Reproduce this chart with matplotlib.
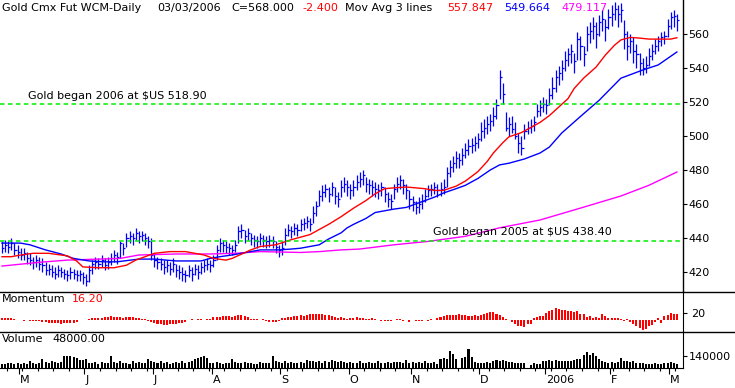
import numpy as np
import matplotlib
matplotlib.use('Agg')
import matplotlib.pyplot as plt
from matplotlib.lines import Line2D

# ---------------- data ----------------
closes = [434, 436, 435, 437, 433, 432, 430, 431, 428, 427,
          426, 427, 425, 424, 421, 422, 420, 419, 421, 420,
          419, 418, 420, 419, 418, 419, 417, 415, 421, 425,
          426, 425, 427, 424, 426, 428, 430, 429, 437, 434,
          440, 441, 440, 443, 441, 442, 440, 438, 430, 427,
          426, 425, 423, 424, 422, 425, 421, 420, 419, 418,
          421, 419, 422, 420, 423, 424, 425, 424, 427, 433,
          437, 436, 435, 434, 433, 436, 444, 445, 441, 443,
          440, 439, 438, 440, 439, 438, 439, 438, 435, 433,
          434, 442, 445, 444, 446, 445, 448, 449, 450, 448,
          455, 459, 465, 467, 469, 466, 470, 465, 463, 470,
          472, 470, 468, 470, 473, 475, 477, 472, 471, 470,
          469, 468, 470, 466, 463, 462, 469, 472, 474, 471,
          468, 463, 461, 458, 460, 462, 465, 468, 469, 470,
          468, 469, 470, 478, 482, 484, 487, 486, 489, 492,
          494, 495, 496, 498, 503, 505, 507, 509, 512, 518,
          535, 525, 505, 507, 504, 500, 496, 493, 503, 505,
          506, 508, 515, 517, 519, 518, 524, 528, 535, 537,
          540, 545, 548, 550, 544, 557, 553, 548, 560, 562,
          565, 560, 567, 569, 564, 570, 572, 575, 572, 574,
          560, 553, 556, 550, 548, 543, 540, 542, 547, 550,
          553, 556, 558, 559, 565, 570, 570.4, 568]
highs = [438, 439, 438, 440, 437, 436, 434, 434, 432, 431,
         429, 430, 429, 428, 426, 425, 424, 423, 424, 423,
         422, 421, 423, 422, 421, 421, 420, 419, 424, 427,
         429, 428, 430, 428, 429, 431, 433, 432, 438, 437,
         443, 444, 443, 446, 444, 444, 443, 441, 440, 431,
         429, 428, 427, 427, 426, 428, 425, 424, 423, 421,
         424, 423, 425, 424, 426, 427, 428, 427, 430, 436,
         440, 439, 438, 437, 436, 439, 447, 448, 445, 446,
         443, 442, 441, 443, 442, 441, 442, 441, 438, 436,
         438, 446, 448, 447, 449, 448, 451, 452, 453, 452,
         459, 462, 468, 471, 472, 470, 473, 470, 467, 474,
         476, 474, 472, 474, 477, 479, 480, 476, 475, 474,
         473, 472, 473, 470, 467, 466, 472, 476, 477, 475,
         472, 468, 465, 462, 464, 466, 469, 471, 472, 473,
         472, 473, 475, 482, 486, 488, 491, 490, 493, 496,
         498, 499, 500, 502, 508, 510, 512, 513, 517, 522,
         539, 531, 514, 511, 512, 508, 502, 500, 507, 509,
         510, 512, 519, 521, 523, 522, 528, 535, 539, 541,
         545, 550, 552, 554, 549, 561, 559, 553, 565, 567,
         570, 567, 571, 574, 569, 575, 577, 579, 577, 578,
         568, 562, 560, 558, 554, 549, 546, 547, 552, 554,
         557, 559, 561, 562, 569, 573, 574, 572]
lows = [431, 432, 431, 433, 430, 428, 427, 427, 425, 424,
        422, 423, 421, 420, 418, 418, 417, 416, 417, 417,
        416, 415, 416, 416, 415, 415, 413, 412, 414, 419,
        422, 422, 423, 421, 422, 424, 426, 425, 428, 430,
        435, 437, 436, 439, 437, 438, 436, 434, 427, 423,
        422, 421, 419, 420, 418, 420, 417, 416, 415, 414,
        417, 415, 418, 416, 419, 420, 421, 420, 423, 427,
        432, 432, 431, 430, 430, 432, 437, 440, 437, 439,
        436, 435, 434, 436, 435, 434, 435, 434, 431, 429,
        430, 436, 441, 440, 442, 441, 444, 445, 446, 444,
        449, 453, 459, 462, 464, 461, 465, 460, 458, 464,
        467, 465, 463, 465, 468, 470, 471, 467, 466, 465,
        464, 463, 465, 461, 458, 457, 463, 467, 469, 466,
        463, 457, 456, 454, 455, 457, 461, 464, 465, 466,
        464, 465, 466, 470, 476, 479, 481, 481, 483, 487,
        489, 490, 491, 493, 497, 499, 501, 503, 506, 510,
        522, 519, 503, 500, 502, 498, 490, 489, 498, 501,
        502, 503, 511, 512, 514, 513, 518, 522, 526, 530,
        533, 538, 541, 543, 537, 545, 545, 541, 550, 555,
        557, 552, 559, 562, 556, 563, 565, 568, 564, 567,
        551, 545, 549, 543, 540, 536, 536, 537, 541, 545,
        548, 550, 553, 554, 558, 563, 564, 562]

momentum = [4, 5, 4, 6, 3, -1, -2, -3, -2, -3,
            -3, -4, -5, -6, -8, -9, -10, -10, -11, -12,
            -11, -10, -9, -9, -7, -2, -1, -2, 3, 4,
            5, 4, 6, 8, 9, 10, 9, 9, 8, 6,
            9, 8, 7, 6, 5, 3, 2, -4, -8, -10,
            -12, -14, -15, -15, -13, -14, -12, -10, -9, -6,
            -1, 1, -1, 2, 0.5, -1, 1, 3, 7, 8,
            9, 10, 11, 10, 9, 12, 15, 13, 10, 8,
            2, 0.5, 1, -1, 0.5, -4, -6, -8, -7, -5,
            4, 6, 8, 9, 10, 12, 13, 12, 15, 17,
            18, 17, 18, 16, 15, 14, 11, 9, 6, 7,
            5, 3, 5, 6, 7, 5, 4, 3, 3, 4,
            1, -2, -3, -4, -3, -4, -2, 2, 1, -5,
            -2, -6, -1, -3, -3, -4, -2, -3, 1, -2,
            4, 9, 12, 14, 15, 13, 14, 18, 15, 13,
            12, 11, 13, 12, 15, 17, 20, 23, 22, 18,
            13, 7, 0.5, -2, -8, -12, -18, -20, -22, -14,
            -12, 6, 8, 10, 12, 20, 25, 30, 35, 32,
            30, 28, 26, 25, 22, 25, 18, 16, 8, 10,
            6, 8, 5, 18, 12, 6, 5, 4, 6, 2,
            -3, 1, -6, -12, -18, -24, -30, -28, -20, -15,
            -8, 6, -9, 10, 14, 20, 18, 16.2]

volume_k = [50, 45, 55, 60, 50, 55, 45, 60, 50, 80,
            55, 50, 60, 105, 70, 65, 85, 75, 60, 70,
            140, 145, 150, 135, 120, 100, 95, 105, 60, 55,
            70, 50, 75, 55, 65, 140, 70, 60, 80, 55,
            65, 50, 80, 60, 70, 55, 60, 105, 90, 70,
            60, 80, 55, 75, 50, 60, 70, 55, 80, 60,
            70, 90, 115, 125, 130, 140, 120, 60, 55, 70,
            60, 50, 65, 55, 105, 70, 60, 55, 75, 60,
            55, 45, 50, 70, 55, 60, 65, 150, 85, 70,
            55, 80, 60, 75, 65, 55, 70, 60, 95, 80,
            85, 75, 90, 65, 80, 70, 95, 80, 75, 85,
            75, 60, 70, 65, 55, 80, 65, 60, 70, 60,
            55, 80, 60, 65, 70, 55, 70, 75, 70, 60,
            95, 60, 70, 55, 75, 60, 80, 60, 55, 70,
            50, 115, 120, 110, 210, 170, 115, 0, 125, 135,
            230, 130, 70, 60, 65, 55, 70, 60, 85, 95,
            90, 95, 80, 70, 75, 60, 65, 55, 60, 0,
            40, 55, 45, 50, 85, 90, 95, 85, 100, 90,
            85, 90, 80, 85, 100, 105, 115, 160, 200, 155,
            185, 150, 110, 80, 75, 65, 70, 60, 75, 120,
            85, 80, 75, 85, 65, 55, 60, 50, 45, 50,
            55, 45, 50, 65, 60, 70, 65, 48]

# moving averages (bar index, value)
ma_red_idx = [0, 3, 6, 10, 15, 21, 24, 26, 31, 36, 40, 43, 46, 49, 54, 59, 62, 65, 68, 72,
              74, 80, 83, 88, 93, 96, 99, 102, 105, 109, 113, 117, 120, 123, 126, 130, 133, 136, 139,
              142, 146, 149, 153, 156, 158, 161, 163, 167, 170, 173, 176, 179, 182, 184, 187, 191, 194, 197, 199,
              202, 205, 208, 212, 215, 217]
ma_red = [429, 429, 430, 431, 431, 429.5, 426.5, 423, 422.5, 422.5, 424, 427, 429, 431, 432, 432, 431, 430, 428, 427,
          428, 433, 435, 436, 439, 440.5, 442, 445, 448, 452.5, 457.5, 462, 466, 469, 469.5, 470, 469.5, 469, 468,
          468, 470.5, 473.5, 479, 485, 490, 496, 499.5, 502, 505, 508, 512, 517, 522, 528, 534, 540.5, 547.6, 553.5, 556.5,
          558, 557.6, 557, 557, 557, 557.8]
ma_blue_idx = [0, 6, 9, 14, 19, 23, 28, 33, 37, 44, 49, 56, 64, 67, 70, 74, 77, 80, 83, 89,
               93, 96, 99, 102, 105, 109, 111, 113, 117, 120, 123, 126, 130, 133, 136, 139, 142, 146, 149, 153,
               157, 160, 163, 168, 173, 176, 180, 186, 192, 199, 206, 211, 217]
ma_blue = [437, 437, 436, 433, 430.6, 428, 426.5, 426, 426, 427.6, 427.6, 426.5, 426.5, 428, 429, 430, 431, 432, 433, 433,
           433.5, 434, 435, 436, 439.4, 443, 446, 448, 451.5, 455, 456, 457, 458, 460, 462, 464, 466.5, 469, 471, 475,
           480, 483, 484, 486.5, 490, 493.5, 501.8, 511.5, 521, 534, 538.8, 541.8, 549.4]
ma_mag_idx = [0, 12, 21, 38, 44, 56, 67, 75, 83, 96, 102, 109, 115, 126, 137, 149, 160, 173, 186, 199, 208, 217]
ma_mag = [423.5, 425.7, 427, 428, 430, 430.6, 430.6, 431, 432, 431.5, 432, 433, 433.5, 436, 438, 441, 446, 450.6,
          457.6, 464.7, 471, 478.8]

month_labels = ['M', 'J', 'J', 'A', 'S', 'O', 'N', 'D', '2006', 'F', 'M']
month_start = [6, 27, 49, 68, 90, 112, 132, 154, 175, 196, 215]
price_ticks = [420, 440, 460, 480, 500, 520, 540, 560]
ref_levels = [518.90, 438.40]
ref_texts = ['Gold began 2006 at $US 518.90', 'Gold began 2005 at $US 438.40']

# ---------------- figure ----------------
W, H = 735, 388
fig = plt.figure(figsize=(W / 100, H / 100), dpi=100)
plt.rcParams['font.family'] = ['DejaVu Sans']
FS = 8


def fx(x):
    return x / W


def fy(y):
    return 1 - y / H


ax = fig.add_axes([0, fy(292), fx(683), fy(0) - fy(292)])
axm = fig.add_axes([0, fy(332), fx(683), fy(292) - fy(332)], sharex=ax)
axv = fig.add_axes([0, fy(368), fx(683), fy(332) - fy(368)], sharex=ax)

n = len(closes)
idx = np.arange(n)
xl = (-0.64, 218.97)

# price bars
ax.vlines(idx, lows, highs, color='#0000ff', lw=0.9)
ax.hlines(closes, idx, idx + 0.7, color='#0000ff', lw=0.9)

# moving averages
ax.plot(ma_mag_idx, ma_mag, color='#ff00ff', lw=1.0)
ax.plot(ma_blue_idx, ma_blue, color='#0000ff', lw=1.0)
ax.plot(ma_red_idx, ma_red, color='#ff0000', lw=1.0)

# reference levels
for lv in ref_levels:
    ax.axhline(lv, color='#00ee00', lw=1.1, dashes=(3, 2.2))

ax.set_xlim(*xl)
ax.set_ylim(408.24, 580)
ax.yaxis.tick_right()
ax.set_yticks(price_ticks)
ax.tick_params(axis='y', direction='out', length=3, width=0.8, labelsize=FS, pad=1)
ax.tick_params(axis='x', bottom=False, labelbottom=False)
for s in ['left', 'top', 'bottom']:
    ax.spines[s].set_visible(False)
ax.spines['right'].set_linewidth(1)

# momentum
axm.bar(idx, momentum, width=0.65, color='#ff0000', linewidth=0)
axm.set_ylim(-37.5, 82.5)
axm.yaxis.tick_right()
axm.set_yticks([20])
axm.tick_params(axis='y', direction='out', length=3, width=0.8, labelsize=FS, pad=3)
axm.tick_params(axis='x', bottom=False, labelbottom=False)
for s in ['left', 'top', 'bottom']:
    axm.spines[s].set_visible(False)

# volume
vol = np.array(volume_k) * 1000.0
axv.bar(idx, vol, width=0.65, color='black', linewidth=0)
axv.set_ylim(0, 438000)
axv.yaxis.tick_right()
axv.set_yticks([140000])
axv.set_yticklabels(['140000'])
axv.tick_params(axis='y', direction='out', length=3, width=0.8, labelsize=FS, pad=1)
for s in ['left', 'top']:
    axv.spines[s].set_visible(False)
axv.set_xticks([m - 0.5 for m in month_start])
axv.set_xticklabels([])
axv.set_xticks(np.arange(1.5, n, 5), minor=True)
axv.tick_params(axis='x', which='major', direction='out', length=4.5, width=0.8)
axv.tick_params(axis='x', which='minor', direction='out', length=2.2, width=0.8)
axv.set_xlim(*xl)

# month labels
for m, lab in zip(month_start, month_labels):
    axv.text(m - 0.5 + 0.3, -0.19, lab, transform=axv.get_xaxis_transform(), fontsize=FS,
             ha='left', va='top')

# separators spanning full width
for yy in [292, 332]:
    fig.add_artist(Line2D([0, 1], [fy(yy), fy(yy)], color='black', lw=1))


# header texts
def ftext(x, y, s, color='black'):
    fig.text(fx(x), fy(y), s, fontsize=FS, color=color, ha='left', va='center')


ftext(2, 8, 'Gold Cmx Fut WCM-Daily')
ftext(157, 8, '03/03/2006')
ftext(231, 8, 'C=568.000')
ftext(302, 8, '-2.400', '#ff0000')
ftext(345, 8, 'Mov Avg 3 lines')
ftext(447, 8, '557.847', '#ff0000')
ftext(504, 8, '549.664', '#0000ff')
ftext(561, 8, '479.117', '#ff00ff')
ftext(2, 299, 'Momentum')
ftext(72, 299, '16.20', '#ff0000')
ftext(2, 339, 'Volume')
ftext(52, 339, '48000.00')
ftext(28, 96, ref_texts[0])
ftext(433, 232, ref_texts[1])

fig.savefig('out.png', dpi=100)
